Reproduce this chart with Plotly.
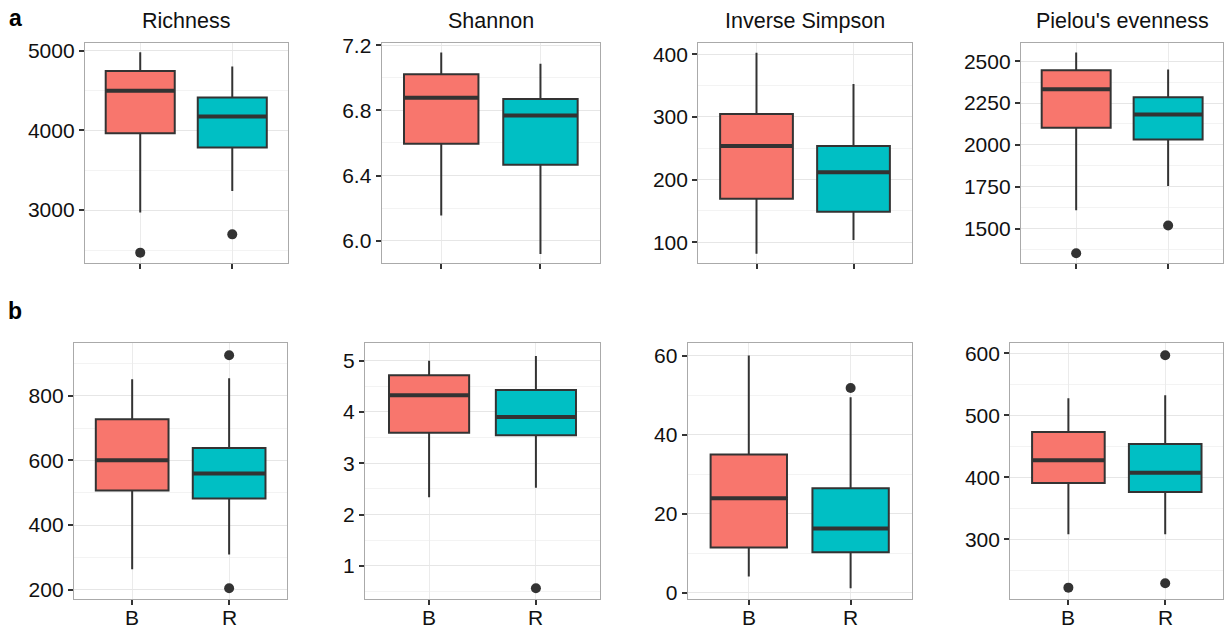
import plotly.graph_objects as go

# ---- data ----
titles = ["Richness", "Shannon", "Inverse Simpson", "Pielou's evenness"]
groups = ["B", "R"]
group_pos = [1, 2]

lower_B = [2971, 6.154, 81.6, 1609, 263, 2.338, 4.05, 308.1]
q1_B = [3963, 6.595, 169.7, 2102, 506.7, 3.597, 11.39, 390.9]
median_B = [4496, 6.878, 253.6, 2333, 600.7, 4.325, 23.88, 427.4]
q3_B = [4746, 7.022, 304.7, 2446, 727.7, 4.714, 34.94, 473.1]
upper_B = [4980, 7.155, 402.6, 2552, 851.6, 5.0, 60.0, 527.4]
outliers_B = [[2467], [], [], [1352], [], [], [], [222]]

lower_R = [3241, 5.918, 103.7, 1754, 308.4, 2.526, 1.1, 308.1]
q1_R = [3784, 6.466, 148.9, 2032, 481.9, 3.545, 10.21, 376.3]
median_R = [4175, 6.769, 211.6, 2181, 559.4, 3.903, 16.2, 407.5]
q3_R = [4413, 6.870, 253.6, 2285, 638.9, 4.429, 26.41, 453.8]
upper_R = [4800, 7.087, 352.6, 2450, 854.7, 5.091, 49.45, 532.3]
outliers_R = [[2696], [], [], [1518], [926, 204], [0.565], [51.8], [596.8, 229]]

# ---- axis settings ----
y_ranges = [[2337, 5096], [5.863, 7.214], [67, 418], [1294, 2609],
            [170, 963], [0.351, 5.338], [-1.69, 63.1], [203.2, 616.1]]
y_dticks = [1000, 0.4, 100, 250, 200, 1, 20, 100]
y_formats = ["d", ".1f", "d", "d", "d", "d", "d", "d"]

W, H = 1225, 633
x_px = [(85, 287.5), (381.7, 600), (698.3, 911.7), (1021, 1223.3),
        (74, 287.3), (365, 600), (687.7, 911.7), (1010.3, 1223.3)]
y_px = [(43, 263)] * 4 + [(343.3, 599.3)] * 4

colors = {"B": "#F8766D", "R": "#00BFC4"}
dark = "#333333"
box_w = 0.75
font_family = "Liberation Sans, Arial, sans-serif"
tick_font = dict(size=21, color="#111111", family=font_family)

fig = go.Figure()
layout = {}
annotations = []

for i in range(8):
    ax = "" if i == 0 else str(i + 1)
    xref, yref = "x" + ax, "y" + ax
    stats = {
        "B": (lower_B[i], q1_B[i], median_B[i], q3_B[i], upper_B[i], outliers_B[i]),
        "R": (lower_R[i], q1_R[i], median_R[i], q3_R[i], upper_R[i], outliers_R[i]),
    }
    for g, pos in zip(groups, group_pos):
        lo, q1, med, q3, up, outs = stats[g]
        fig.add_trace(go.Box(
            x=[pos], q1=[q1], median=[med], q3=[q3],
            lowerfence=[lo], upperfence=[up],
            width=box_w, whiskerwidth=0, boxpoints=False,
            fillcolor=colors[g], line=dict(color=dark, width=2),
            xaxis=xref, yaxis=yref, showlegend=False, hoverinfo="skip"))
        # thicker median bar (ggplot style)
        fig.add_trace(go.Scatter(
            x=[pos - box_w / 2, pos + box_w / 2], y=[med, med], mode="lines",
            line=dict(color=dark, width=4), xaxis=xref, yaxis=yref,
            showlegend=False, hoverinfo="skip"))
        if outs:
            fig.add_trace(go.Scatter(
                x=[pos] * len(outs), y=outs, mode="markers",
                marker=dict(color=dark, size=10), xaxis=xref, yaxis=yref,
                showlegend=False, hoverinfo="skip"))
        # category labels under the bottom row (placed on the x axis positions)
        if i >= 4:
            annotations.append(dict(
                text=g, xref=xref, yref="paper", x=pos, y=1 - 617 / H,
                xanchor="center", yanchor="middle", showarrow=False,
                font=tick_font))

    x0, x1 = x_px[i]
    y0, y1 = y_px[i]
    layout["xaxis" + ax] = dict(
        domain=[x0 / W, x1 / W], anchor=yref, range=[0.4, 2.6],
        tickvals=group_pos, ticktext=groups, showticklabels=False,
        ticks="outside", ticklen=5, tickwidth=2, tickcolor=dark,
        showgrid=True, gridcolor="#ebebeb", gridwidth=1,
        showline=True, mirror=True, linecolor="#aaaaaa", linewidth=1.3,
        zeroline=False, fixedrange=True, automargin=False)
    dt = y_dticks[i]
    layout["yaxis" + ax] = dict(
        domain=[1 - y1 / H, 1 - y0 / H], anchor=xref, range=y_ranges[i],
        dtick=dt, tick0=0, tickformat=y_formats[i],
        ticks="outside", ticklen=5, tickwidth=2, tickcolor=dark,
        showgrid=True, gridcolor="#e6e6e6", gridwidth=1,
        minor=dict(dtick=dt / 2, tick0=0, showgrid=True, gridcolor="#f3f3f3",
                   gridwidth=1, ticks=""),
        showline=True, mirror=True, linecolor="#aaaaaa", linewidth=1.3,
        zeroline=False, fixedrange=True, automargin=False,
        tickfont=tick_font)

for i, t in enumerate(titles):
    x0, x1 = x_px[i]
    annotations.append(dict(
        text=t, xref="paper", yref="paper", x=(x0 + x1) / 2 / W, y=1 - 21 / H,
        xanchor="center", yanchor="middle", showarrow=False,
        font=dict(size=21.5, color="#111111", family=font_family)))
for lab, ypx in [("a", 18), ("b", 311)]:
    annotations.append(dict(
        text="<b>" + lab + "</b>", xref="paper", yref="paper", x=15 / W,
        y=1 - ypx / H, xanchor="center", yanchor="middle", showarrow=False,
        font=dict(size=23, color="#000000", family=font_family)))

fig.update_layout(
    width=W, height=H, margin=dict(l=0, r=0, t=0, b=0, pad=0),
    paper_bgcolor="white", plot_bgcolor="white", showlegend=False,
    annotations=annotations, **layout)

post = ("document.body.style.margin='0';"
        "document.body.style.padding='0';"
        "document.body.style.overflow='hidden';"
        "document.documentElement.style.overflow='hidden';")

fig.write_html("out.html", config={"displayModeBar": False, "responsive": False},
               post_script=post)
